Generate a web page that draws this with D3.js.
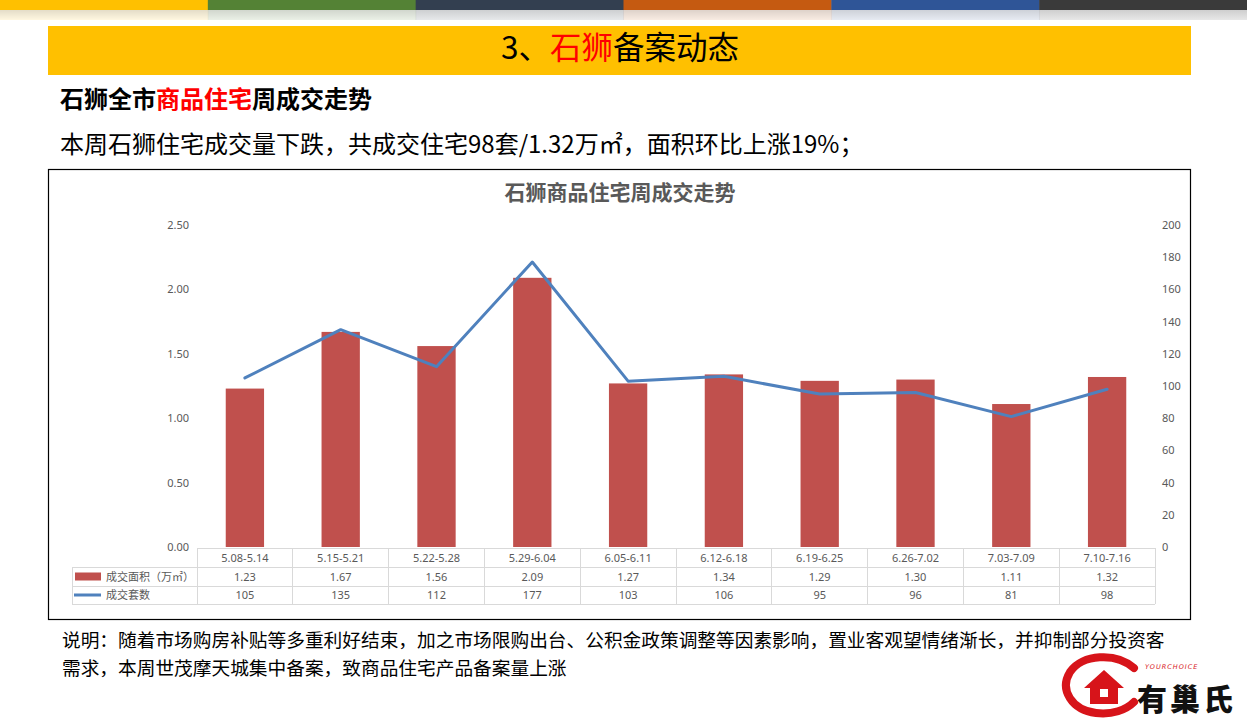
<!DOCTYPE html>
<html><head><meta charset="utf-8">
<script src="https://cdn.jsdelivr.net/npm/d3@7"></script>
<style>
html,body{margin:0;padding:0;background:#fff;}
svg{display:block;font-family:"Noto Sans CJK SC","Noto Sans",sans-serif;}
</style></head>
<body><svg id="c" width="1247" height="718"></svg>
<script>
const categories = ["5.08-5.14","5.15-5.21","5.22-5.28","5.29-6.04","6.05-6.11","6.12-6.18","6.19-6.25","6.26-7.02","7.03-7.09","7.10-7.16"];
const areaValues = [1.23,1.67,1.56,2.09,1.27,1.34,1.29,1.30,1.11,1.32];
const unitValues = [105,135,112,177,103,106,95,96,81,98];
const leftTicks = [0,0.5,1.0,1.5,2.0,2.5];
const rightTicks = [0,20,40,60,80,100,120,140,160,180,200];
const seriesNames = ["成交面积（万㎡）","成交套数"];
const topBarColors = ["#FFC000","#548235","#333F50","#C55A11","#2F5597","#3A3A3A"];

const svg = d3.select("#c");
const W = 1247;

// top colored bar
const segW = W / topBarColors.length;
const defs = svg.append("defs");
const g1 = defs.append("linearGradient").attr("id","fade").attr("x1",0).attr("y1",0).attr("x2",0).attr("y2",1);
g1.append("stop").attr("offset","0").attr("stop-color","#000").attr("stop-opacity",0.18);
g1.append("stop").attr("offset","1").attr("stop-color","#000").attr("stop-opacity",0);
topBarColors.forEach((c,i)=>{
  svg.append("rect").attr("x",i*segW).attr("y",0).attr("width",segW+0.5).attr("height",10).attr("fill",c);
  svg.append("rect").attr("x",i*segW).attr("y",10).attr("width",segW+0.5).attr("height",10).attr("fill",c).attr("opacity",0.12);
});
svg.append("rect").attr("x",0).attr("y",10).attr("width",W).attr("height",10).attr("fill","url(#fade)").attr("opacity",0.6);

// banner
svg.append("rect").attr("x",48).attr("y",26).attr("width",1143).attr("height",49).attr("fill","#FFC000");
const bt = svg.append("text").attr("x",620).attr("y",59).attr("text-anchor","middle").attr("font-size",31.5).attr("fill","#000");
bt.append("tspan").text("3、");
bt.append("tspan").attr("fill","#FF0000").text("石狮");
bt.append("tspan").text("备案动态");

// subtitle
const st = svg.append("text").attr("x",60).attr("y",108).attr("font-size",24).attr("font-weight","bold").attr("fill","#000");
st.append("tspan").text("石狮全市");
st.append("tspan").attr("fill","#FF0000").text("商品住宅");
st.append("tspan").text("周成交走势");

svg.append("text").attr("x",60).attr("y",153).attr("font-size",24).attr("fill","#000")
  .text("本周石狮住宅成交量下跌，共成交住宅98套/1.32万㎡，面积环比上涨19%；");

// chart box
svg.append("rect").attr("x",48.5).attr("y",169.5).attr("width",1142).attr("height",450)
  .attr("fill","#fff").attr("stroke","#000").attr("stroke-width",1.2);

svg.append("text").attr("x",620).attr("y",200).attr("text-anchor","middle").attr("font-size",21)
  .attr("font-weight","bold").attr("fill","#595959").text("石狮商品住宅周成交走势");

// scales
const x = d3.scaleBand().domain(categories).range([197,1155]).padding(0);
const yL = d3.scaleLinear().domain([0,2.5]).range([547,225]);
const yR = d3.scaleLinear().domain([0,200]).range([547,225]);

// axes
const tf = "'Noto Sans','DejaVu Sans',sans-serif";
const axL = svg.append("g").attr("transform","translate(192,0)")
  .call(d3.axisLeft(yL).tickValues(leftTicks).tickFormat(d3.format(".2f")).tickSize(0).tickPadding(3));
axL.select(".domain").remove();
axL.selectAll("text").attr("font-size",11).attr("fill","#595959").attr("font-family",tf);

const axR = svg.append("g").attr("transform","translate(1159,0)")
  .call(d3.axisRight(yR).tickValues(rightTicks).tickSize(0).tickPadding(3));
axR.select(".domain").remove();
axR.selectAll("text").attr("font-size",11).attr("fill","#595959").attr("font-family",tf);

// bars
const barW = x.bandwidth()*0.4;
svg.append("g").selectAll("rect").data(categories).join("rect")
  .attr("x",(d)=>x(d)+x.bandwidth()/2-barW/2)
  .attr("y",(d,i)=>yL(areaValues[i]))
  .attr("width",barW)
  .attr("height",(d,i)=>yL(0)-yL(areaValues[i]))
  .attr("fill","#C0504D");

// line
const line = d3.line().x((d,i)=>x(categories[i])+x.bandwidth()/2).y(d=>yR(d));
svg.append("path").datum(unitValues).attr("d",line).attr("fill","none")
  .attr("stroke","#4F81BD").attr("stroke-width",3).attr("stroke-linejoin","round").attr("stroke-linecap","round");

// data table
const rowY = [548,567,586,604];
const tL = 72, tX0 = 197, tX1 = 1155;
const tg = svg.append("g").attr("stroke","#D9D9D9").attr("stroke-width",1).attr("shape-rendering","crispEdges");
tg.append("line").attr("x1",tX0).attr("x2",tX1).attr("y1",rowY[0]).attr("y2",rowY[0]);
[1,2,3].forEach(k=>tg.append("line").attr("x1",tL).attr("x2",tX1).attr("y1",rowY[k]).attr("y2",rowY[k]));
tg.append("line").attr("x1",tL).attr("x2",tL).attr("y1",rowY[1]).attr("y2",rowY[3]);
categories.forEach(c=>tg.append("line").attr("x1",x(c)).attr("x2",x(c)).attr("y1",rowY[0]).attr("y2",rowY[3]));
tg.append("line").attr("x1",tX1).attr("x2",tX1).attr("y1",rowY[0]).attr("y2",rowY[3]);

const rows = [categories, areaValues.map(d3.format(".2f")), unitValues.map(String)];
rows.forEach((r,ri)=>{
  svg.append("g").selectAll("text").data(r).join("text")
    .attr("x",(d,i)=>x(categories[i])+x.bandwidth()/2)
    .attr("y",(rowY[ri]+rowY[ri+1])/2+4)
    .attr("text-anchor","middle").attr("font-size",11).attr("fill","#595959").attr("font-family",tf)
    .text(d=>d);
});
// legend cells
svg.append("rect").attr("x",75).attr("y",(rowY[1]+rowY[2])/2-4).attr("width",26).attr("height",8).attr("fill","#C0504D");
svg.append("line").attr("x1",74).attr("x2",101).attr("y1",(rowY[2]+rowY[3])/2).attr("y2",(rowY[2]+rowY[3])/2)
  .attr("stroke","#4F81BD").attr("stroke-width",3);
seriesNames.forEach((s,i)=>{
  svg.append("text").attr("x",106).attr("y",(rowY[i+1]+rowY[i+2])/2+4).attr("font-size",11)
    .attr("fill","#595959").text(s);
});

// notes
svg.append("text").attr("x",62).attr("y",647).attr("font-size",18.7).attr("fill","#000")
  .text("说明：随着市场购房补贴等多重利好结束，加之市场限购出台、公积金政策调整等因素影响，置业客观望情绪渐长，并抑制部分投资客");
svg.append("text").attr("x",62).attr("y",675).attr("font-size",18.7).attr("fill","#000")
  .text("需求，本周世茂摩天城集中备案，致商品住宅产品备案量上涨");

// logo
const lg = svg.append("g");
lg.append("path").attr("d","M1134,668 C1116,652 1082,654 1070,672 C1059,690 1072,710 1096,713 C1112,715 1126,710 1134,702")
  .attr("fill","none").attr("stroke","#D7141A").attr("stroke-width",8).attr("stroke-linecap","round");
lg.append("path").attr("d","M1084,688 L1104,670 L1124,688 L1118,688 L1118,704 L1090,704 L1090,688 Z").attr("fill","#D7141A");
lg.append("rect").attr("x",1100).attr("y",689).attr("width",8).attr("height",8).attr("fill","#fff");
lg.append("text").attr("x",1145).attr("y",669).attr("font-size",6.5).attr("font-style","italic").attr("fill","#D7141A")
  .attr("font-family","'DejaVu Sans',sans-serif").attr("letter-spacing",1).text("YOURCHOICE");
lg.append("text").attr("x",1137).attr("y",710).attr("font-size",30).attr("font-weight","900").attr("fill","#111")
  .attr("letter-spacing",3).text("有巢氏");
</script></body></html>
